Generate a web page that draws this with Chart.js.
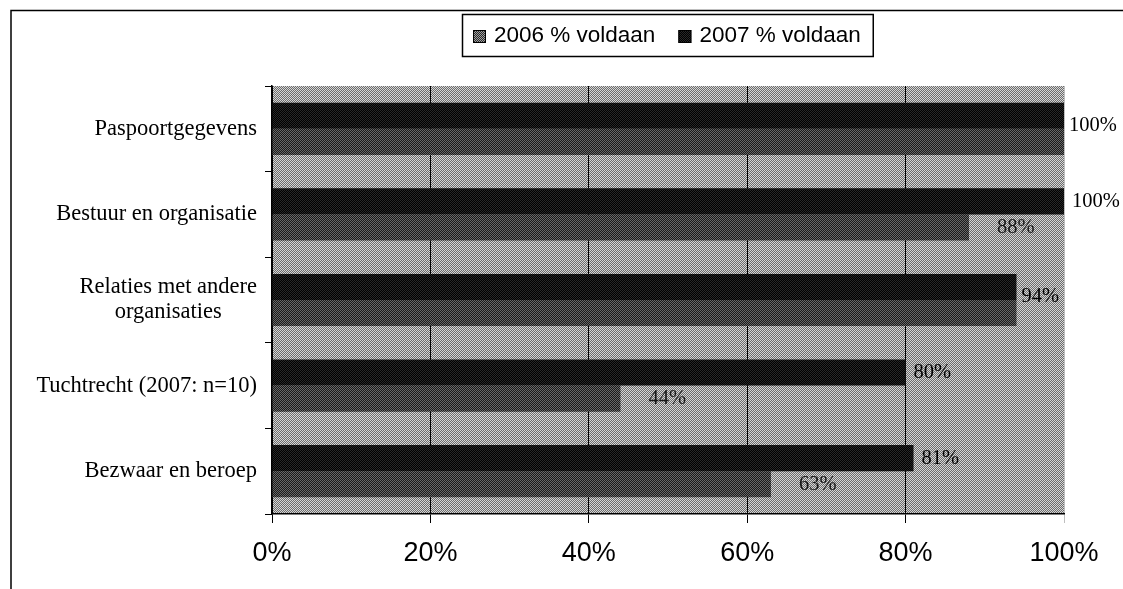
<!DOCTYPE html>
<html>
<head>
<meta charset="utf-8">
<script src="https://cdn.jsdelivr.net/npm/chart.js@4.4.1/dist/chart.umd.min.js"></script>
<style>
    html, body { margin: 0; padding: 0; background: #fff; }
    #wrap { width: 1123px; height: 589px; }
</style>
</head>
<body>
<div id="wrap"><canvas id="voldaanChart" width="1123" height="589"></canvas></div>
<script>
// Gegevens uit de figuur
const categorieen = [
    'Paspoortgegevens',
    'Bestuur en organisatie',
    ['Relaties met andere', 'organisaties'],
    'Tuchtrecht (2007: n=10)',
    'Bezwaar en beroep'
];
const reeksLabels = ['2007 % voldaan', '2006 % voldaan'];
const voldaan2007 = [100, 100, 94, 80, 81];
const voldaan2006 = [100, 88, 94, 44, 63];
const asTicks = [0, 20, 40, 60, 80, 100];

// Gerasterde vulling (zoals de gescande figuur)
const maakPatroon = (a, b) => {
    const c = document.createElement('canvas');
    c.width = 2; c.height = 2;
    const g = c.getContext('2d');
    g.fillStyle = a; g.fillRect(0, 0, 2, 2);
    g.fillStyle = b; g.fillRect(0, 0, 1, 1); g.fillRect(1, 1, 1, 1);
    return g.createPattern(c, 'repeat');
};
const vulAchtergrond = maakPatroon('#6c6c6c', '#d6d6d6');
const vul2007 = maakPatroon('#000000', '#282828');
const vul2006 = maakPatroon('#1a1a1a', '#686868');
const vulLegenda2006 = maakPatroon('#2a2a2a', '#a0a0a0');

const serif = '"Liberation Serif", "Times New Roman", serif';

// Kader + achtergrond van het plotgebied
const achtergrondPlugin = {
    id: 'achtergrond',
    beforeDraw(chart) {
        const { ctx, chartArea: a } = chart;
        ctx.save();
        ctx.strokeStyle = '#000';
        ctx.lineWidth = 1.5;
        ctx.beginPath();
        ctx.moveTo(11, 589);
        ctx.lineTo(11, 10.5);
        ctx.lineTo(1123, 10.5);
        ctx.stroke();
        ctx.fillStyle = vulAchtergrond;
        ctx.fillRect(a.left, a.top, a.right - a.left, a.bottom - a.top);
        ctx.restore();
    }
};

// Categorielabels: regels gecentreerd binnen het blok, blok rechts uitgelijnd
const categoriePlugin = {
    id: 'categorieen',
    afterDraw(chart) {
        const { ctx } = chart;
        const yScale = chart.scales.y;
        const rechts = yScale.right - 15;
        const regelHoogte = 25;
        ctx.save();
        ctx.font = '22.5px ' + serif;
        ctx.fillStyle = '#000';
        ctx.textBaseline = 'middle';
        ctx.textAlign = 'center';
        categorieen.forEach((lab, i) => {
            const regels = Array.isArray(lab) ? lab : [lab];
            const breedte = Math.max(...regels.map(r => ctx.measureText(r).width));
            const midden = yScale.getPixelForTick(i);
            const y0 = midden - (regels.length - 1) * regelHoogte / 2;
            regels.forEach((r, j) => ctx.fillText(r, rechts - breedte / 2, y0 + j * regelHoogte));
        });
        ctx.restore();
    }
};

// Eigen legenda met kader
const legendaPlugin = {
    id: 'legenda',
    afterDraw(chart) {
        const { ctx } = chart;
        const items = chart.data.datasets.map((ds, i) => ({ tekst: ds.label, vul: i === 1 ? vulLegenda2006 : ds.backgroundColor })).reverse();
        ctx.save();
        ctx.font = '22.5px "Liberation Sans", Arial, sans-serif';
        ctx.textBaseline = 'middle';
        let x = 473;
        const y = 36;
        items.forEach((it, k) => {
            ctx.fillStyle = it.vul;
            ctx.fillRect(x, y - 6, 13, 13);
            ctx.strokeStyle = '#000';
            ctx.lineWidth = 1;
            ctx.strokeRect(x + 0.5, y - 5.5, 12, 12);
            ctx.fillStyle = '#000';
            ctx.fillText(it.tekst, x + 21, y);
            x += 21 + ctx.measureText(it.tekst).width + (k === 0 ? 23 : 12);
        });
        ctx.lineWidth = 1.5;
        ctx.strokeRect(462.5, 14.5, x - 462, 42);
        ctx.restore();
    }
};

// Waardelabels achter de balken
const waardePlugin = {
    id: 'waarden',
    afterDatasetsDraw(chart) {
        const { ctx } = chart;
        const m07 = chart.getDatasetMeta(0);
        const m06 = chart.getDatasetMeta(1);
        ctx.save();
        ctx.font = '20.5px ' + serif;
        ctx.textBaseline = 'middle';
        ctx.textAlign = 'left';
        categorieen.forEach((_, i) => {
            const b07 = m07.data[i];
            const b06 = m06.data[i];
            if (voldaan2007[i] === voldaan2006[i]) {
                ctx.fillStyle = '#000';
                ctx.fillText(voldaan2007[i] + '%', b07.x + 5, (b07.y + b06.y) / 2 - 3);
            } else {
                ctx.fillStyle = '#000';
                ctx.fillText(voldaan2007[i] + '%', b07.x + 8, b07.y);
                ctx.fillStyle = '#181818';
                ctx.fillText(voldaan2006[i] + '%', b06.x + 28, b06.y);
            }
        });
        ctx.restore();
    }
};

const ctx = document.getElementById('voldaanChart').getContext('2d');
window.chartVoldaan = new Chart(ctx, {
    type: 'bar',
    data: {
        labels: categorieen,
        datasets: [
            { label: reeksLabels[0], data: voldaan2007, backgroundColor: vul2007, borderWidth: 0 },
            { label: reeksLabels[1], data: voldaan2006, backgroundColor: vul2006, borderWidth: 0 }
        ]
    },
    options: {
        indexAxis: 'y',
        responsive: false,
        animation: false,
        categoryPercentage: 0.61,
        barPercentage: 1.0,
        layout: { padding: { left: 0, right: 59, top: 86, bottom: 0 } },
        plugins: {
            legend: { display: false },
            tooltip: { enabled: false }
        },
        scales: {
            x: {
                min: 0,
                max: 100,
                afterBuildTicks: scale => { scale.ticks = asTicks.map(v => ({ value: v })); },
                afterFit: scale => { scale.height = 75; },
                border: { color: '#000', width: 1.5 },
                grid: {
                    color: c => (c.tick && c.tick.value === 100 ? 'rgba(0,0,0,0.25)' : '#000'),
                    lineWidth: 1,
                    tickLength: 9,
                    drawOnChartArea: true
                },
                ticks: {
                    color: '#000',
                    padding: 14,
                    font: { family: '"Liberation Sans", Arial, sans-serif', size: 27 },
                    callback: v => v + '%'
                }
            },
            y: {
                afterFit: scale => { scale.width = 272; },
                border: { color: '#000', width: 1.5 },
                grid: {
                    offset: true,
                    drawOnChartArea: false,
                    tickLength: 7,
                    color: '#000'
                },
                ticks: { display: false }
            }
        }
    },
    plugins: [achtergrondPlugin, categoriePlugin, legendaPlugin, waardePlugin]
});
</script>
</body>
</html>
